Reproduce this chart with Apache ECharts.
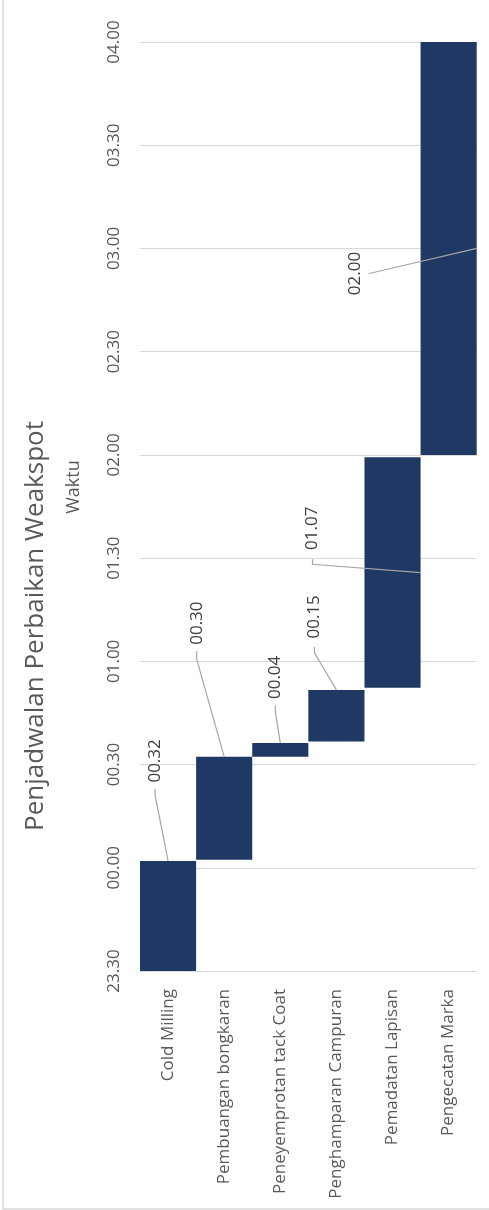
<!DOCTYPE html>
<html>
<head>
<meta charset="utf-8">
<title>Penjadwalan Perbaikan Weakspot</title>
<script src="https://cdn.jsdelivr.net/npm/echarts@6/dist/echarts.min.js"></script>
<style>
  html, body { margin: 0; padding: 0; background: #ffffff; }
  #chart { width: 489px; height: 1210px; }
</style>
</head>
<body>
<div id="chart"></div>
<script>
// Work steps of the weak-spot repair, in order
const tasks = [
  'Cold Milling',
  'Pembuangan bongkaran',
  'Peneyemprotan tack Coat',
  'Penghamparan Campuran',
  'Pemadatan Lapisan',
  'Pengecatan Marka'
];
// Start of each step, minutes after 23.30
const startMin = [0, 32.3, 62.3, 66.7, 82.3, 150];
// Duration of each step, minutes
const durationMin = [32, 30, 4, 15, 67, 120];
// Clock labels of the time axis, every 30 minutes from 23.30
const timeTicks = ['23.30', '00.00', '00.30', '01.00', '01.30', '02.00', '02.30', '03.00', '03.30', '04.00'];

const STEP = 30;
const FONT = '"Open Sans", "DejaVu Sans", sans-serif';

// Callout placement: label centre offset from the bar's top centre,
// leader start offset from the label centre, and where the leader meets the bar
const callouts = [
  { dx: -13,   dy: -100,   from: [[0, 28], [0, 34]], to: 'top' },
  { dx: -27.5, dy: -133.5, from: [[0, 28], [0, 36]], to: 'top' },
  { dx: -5,    dy: -65.5,  from: [[0, 28], [0, 34]], to: 'top' },
  { dx: -22,   dy: -73,    from: [[0, 30], [0, 36]], to: 'top' },
  { dx: -80,   dy: 71,     from: [[0, 31], [0, 36]], to: 'side' },
  { dx: -93.5, dy: 231.5,  from: [[13.5, 0], [14, 0]], to: 'side' }
];

function hhmm(min) {
  const h = Math.floor(min / 60);
  const m = Math.round(min % 60);
  return String(h).padStart(2, '0') + '.' + String(m).padStart(2, '0');
}

const chart = echarts.init(document.getElementById('chart'), null, { renderer: 'canvas' });

const option = {
  animation: false,
  backgroundColor: '#ffffff',
  textStyle: { fontFamily: FONT },
  grid: { left: 140, right: 12.3, top: 42, bottom: 239, containLabel: false },
  xAxis: {
    type: 'category',
    data: tasks,
    axisTick: { show: false },
    axisLine: { show: true, lineStyle: { color: '#D9D9D9', width: 1 } },
    axisLabel: {
      rotate: 90,
      interval: 0,
      margin: 18,
      color: '#595959',
      fontSize: 17,
      fontFamily: FONT
    },
    splitLine: { show: false }
  },
  yAxis: {
    type: 'value',
    min: 0,
    max: STEP * (timeTicks.length - 1),
    interval: STEP,
    axisLine: { show: false },
    axisTick: { show: false },
    axisLabel: {
      rotate: 90,
      margin: 17,
      color: '#595959',
      fontSize: 17,
      fontFamily: FONT,
      formatter: function (v) { return timeTicks[Math.round(v / STEP)]; }
    },
    splitLine: { show: true, lineStyle: { color: '#D9D9D9', width: 1 } }
  },
  series: [
    {
      name: 'Mulai',
      type: 'bar',
      stack: 'jadwal',
      data: startMin,
      itemStyle: { color: 'transparent' },
      barCategoryGap: 0,
      silent: true
    },
    {
      name: 'Durasi',
      type: 'bar',
      stack: 'jadwal',
      data: durationMin,
      itemStyle: { color: '#203864' },
      barCategoryGap: 0,
      silent: true
    },
    {
      name: 'Keterangan',
      type: 'custom',
      silent: true,
      z: 5,
      clip: false,
      data: tasks.map(function (t, i) { return [i, startMin[i], durationMin[i]]; }),
      encode: { x: 0, y: 1 },
      renderItem: function (params, api) {
        const i = params.dataIndex;
        const start = api.value(1);
        const dur = api.value(2);
        const top = api.coord([i, start + dur]);
        const bottom = api.coord([i, start]);
        const halfW = api.size([1, 0])[0] / 2;
        const c = callouts[i];
        const lx = top[0] + c.dx;
        const ly = top[1] + c.dy;
        const anchor = c.to === 'side'
          ? [top[0] + halfW, (top[1] + bottom[1]) / 2]
          : [top[0], top[1]];
        const points = c.from.map(function (p) { return [lx + p[0], ly + p[1]]; });
        points.push(anchor);
        return {
          type: 'group',
          children: [
            {
              type: 'polyline',
              shape: { points: points },
              style: { stroke: '#A6A6A6', lineWidth: 1.2, fill: null }
            },
            {
              type: 'text',
              x: lx,
              y: ly,
              rotation: Math.PI / 2,
              style: {
                text: hhmm(dur),
                fill: '#404040',
                font: '17px ' + FONT,
                align: 'center',
                verticalAlign: 'middle'
              }
            }
          ]
        };
      }
    }
  ],
  graphic: [
    {
      type: 'rect',
      silent: true,
      shape: { x: 3, y: -10, width: 600, height: 1219 },
      style: { fill: null, stroke: '#D9D9D9', lineWidth: 1.5 }
    },
    {
      type: 'text',
      silent: true,
      x: 36,
      y: 626,
      rotation: Math.PI / 2,
      style: {
        text: 'Penjadwalan Perbaikan Weakspot',
        fill: '#595959',
        font: '26px ' + FONT,
        align: 'center',
        verticalAlign: 'middle'
      }
    },
    {
      type: 'text',
      silent: true,
      x: 74,
      y: 487,
      rotation: Math.PI / 2,
      style: {
        text: 'Waktu',
        fill: '#595959',
        font: '18px ' + FONT,
        align: 'center',
        verticalAlign: 'middle'
      }
    }
  ]
};

chart.setOption(option);
</script>
</body>
</html>
